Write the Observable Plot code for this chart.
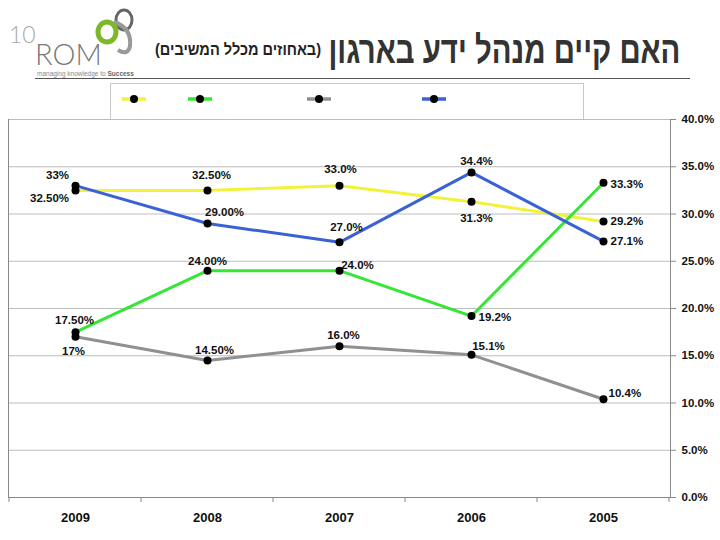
<!DOCTYPE html>
<html><head><meta charset="utf-8">
<script src="https://cdn.jsdelivr.net/npm/d3@7"></script>
<script src="https://cdn.jsdelivr.net/npm/@observablehq/plot@0.6"></script>
<style>
body{margin:0;background:#fff;font-family:"Liberation Sans",Arial,sans-serif;}
#wrap{position:relative;width:720px;height:540px;overflow:hidden;background:#fff;}
#title{position:absolute;top:28px;right:40px;font-size:38px;font-weight:bold;color:#333;white-space:nowrap;transform-origin:right center;line-height:44px;}
#subtitle{position:absolute;top:40px;left:155px;font-size:16px;font-weight:bold;color:#222;white-space:nowrap;transform-origin:left center;line-height:20px;}
#hrule{position:absolute;top:78px;left:35px;width:655px;height:0;border-top:1.5px solid #555;}
#chart{position:absolute;top:80px;left:0;}
#legend{position:absolute;top:83px;left:110px;width:472px;height:35px;border:1px solid #c8c8c8;border-bottom:none;background:#fff;}
#logo{position:absolute;top:0;left:0;}
#chart svg text{font-family:"Liberation Sans",Arial,sans-serif;}
</style></head><body>
<div id="wrap">
  <svg id="logo" width="200" height="80">
    <ellipse cx="124" cy="20" rx="8" ry="10" fill="none" stroke="#666" stroke-width="3"/>
    <path d="M114 22 Q132 28 130 46 Q128 56 118 50" fill="none" stroke="#999" stroke-width="4"/>
    <ellipse cx="107" cy="32" rx="9" ry="10" fill="none" stroke="#7cb82a" stroke-width="5"/>
    <text x="9" y="43" font-family="Lato,sans-serif" font-weight="300" font-size="23" fill="#aaa">10</text>
    <text x="35" y="65" font-family="Lato,sans-serif" font-weight="300" font-size="29" fill="#777">ROM</text>
    <text x="37" y="76" font-family="Liberation Sans,sans-serif" font-size="6.5" fill="#888">managing knowledge to <tspan font-weight="bold" fill="#666">Success</tspan></text>
  </svg>
  <div id="title" dir="rtl">האם קיים מנהל ידע בארגון</div>
  <div id="subtitle" dir="rtl">(באחוזים מכלל המשיבים)</div>
  <div id="hrule"></div>
  <div id="chart"></div>
  <div id="legend"></div>
</div>
<script>
// ---- data ----
const years = ["2009", "2008", "2007", "2006", "2005"];
const seriesKeys = ["S1", "S2", "S3", "S4"];
const s1Values = [32.5, 32.5, 33.0, 31.3, 29.2];
const s2Values = [17.5, 24.0, 24.0, 19.2, 33.3];
const s3Values = [17.0, 14.5, 16.0, 15.1, 10.4];
const s4Values = [33.0, 29.0, 27.0, 34.4, 27.1];
const s1Labels = ["32.50%", "32.50%", "33.0%", "31.3%", "29.2%"];
const s2Labels = ["17.50%", "24.00%", "24.0%", "19.2%", "33.3%"];
const s3Labels = ["17%", "14.50%", "16.0%", "15.1%", "10.4%"];
const s4Labels = ["33%", "29.00%", "27.0%", "34.4%", "27.1%"];
const yTicks = [0, 5, 10, 15, 20, 25, 30, 35, 40];

// ---- styles ----
const seriesColors = ["#f2f23a", "#35e635", "#909090", "#3a62d4"];
// per-point label placement [dx, dy, anchor]
const labelPlacement = {
  S1: [[-26, 8, "middle"], [4, -15, "middle"], [1, -16, "middle"], [5, 17, "middle"], [7, 0, "start"]],
  S2: [[-1, -12, "middle"], [0, -9, "middle"], [18, -5, "middle"], [7, 1, "start"], [7, 1, "start"]],
  S3: [[-2, 14, "middle"], [7, -10, "middle"], [4, -11, "middle"], [17, -8, "middle"], [5, -6, "start"]],
  S4: [[-18, -10, "middle"], [17, -11, "middle"], [7, -15, "middle"], [5, -11, "middle"], [7, 0, "start"]]
};
const legendDotX = [23, 89, 208, 323];

const valuesBySeries = {S1: s1Values, S2: s2Values, S3: s3Values, S4: s4Values};
const labelsBySeries = {S1: s1Labels, S2: s2Labels, S3: s3Labels, S4: s4Labels};
const rows = [];
seriesKeys.forEach(s => years.forEach((yr, i) => rows.push({series: s, year: yr, value: valuesBySeries[s][i], label: labelsBySeries[s][i], i})));

const boundaryTicks = (index, scales) => {
  const x = scales.x, y = scales.y;
  const step = x(years[1]) - x(years[0]);
  const bounds = years.map(yr => x(yr) - step / 2).concat([x(years[years.length - 1]) + step / 2]);
  const g = d3.create("svg:g").attr("stroke", "#888").attr("stroke-width", 1);
  bounds.forEach(b => g.append("line").attr("x1", b).attr("x2", b).attr("y1", y(0)).attr("y2", y(0) + 5));
  return g.node();
};

const textMarks = rows.map(r => {
  const [dx, dy, anchor] = labelPlacement[r.series][r.i];
  return Plot.text([r], {x: "year", y: "value", text: "label", dx, dy, textAnchor: anchor,
    fontSize: 11.5, fontWeight: "bold", fill: "#111"});
});

const chart = Plot.plot({
  width: 720,
  height: 460,
  marginTop: 39,
  marginBottom: 43,
  marginLeft: 8,
  marginRight: 50,
  x: {type: "point", domain: years, padding: 0.5, label: null},
  y: {domain: [0, 40], label: null},
  color: {type: "ordinal", domain: seriesKeys, range: seriesColors},
  style: {background: "#fff", overflow: "visible"},
  marks: [
    Plot.gridY(yTicks.filter(t => t > 0), {stroke: "#bdbdbd", strokeOpacity: 1}),
    Plot.axisY(yTicks, {anchor: "right", tickSize: 5, tickPadding: 6, stroke: "#888",
      tickFormat: d => d.toFixed(1) + "%", fontSize: 11.5, fontWeight: "bold", fill: "#111", label: null}),
    Plot.axisX(years, {anchor: "bottom", tickSize: 0, tickPadding: 15, fontSize: 13, fontWeight: "bold", fill: "#111", label: null}),
    Plot.frame({anchor: "left", stroke: "#888"}),
    Plot.frame({anchor: "right", stroke: "#888"}),
    Plot.ruleY([0], {stroke: "#888"}),
    boundaryTicks,
    Plot.line(rows, {x: "year", y: "value", z: "series", stroke: "series", strokeWidth: 3}),
    Plot.dot(rows, {x: "year", y: "value", r: 4, fill: "#000"}),
    ...textMarks
  ]
});
document.getElementById("chart").appendChild(chart);

// legend (markers only, as in the reference)
const leg = d3.select("#legend").append("svg").attr("width", 472).attr("height", 34);
seriesKeys.forEach((s, k) => {
  const cx = legendDotX[k];
  leg.append("line").attr("x1", cx - 12).attr("x2", cx + 12).attr("y1", 15).attr("y2", 15)
    .attr("stroke", seriesColors[k]).attr("stroke-width", 3.5);
  leg.append("circle").attr("cx", cx).attr("cy", 15).attr("r", 4).attr("fill", "#000");
});

// fit title widths to the reference
function fit(id, w) {
  const el = document.getElementById(id);
  const cw = el.getBoundingClientRect().width;
  el.style.transform = `scaleX(${w / cw})`;
}
fit("title", 352);
fit("subtitle", 166);
</script>
</body></html>
